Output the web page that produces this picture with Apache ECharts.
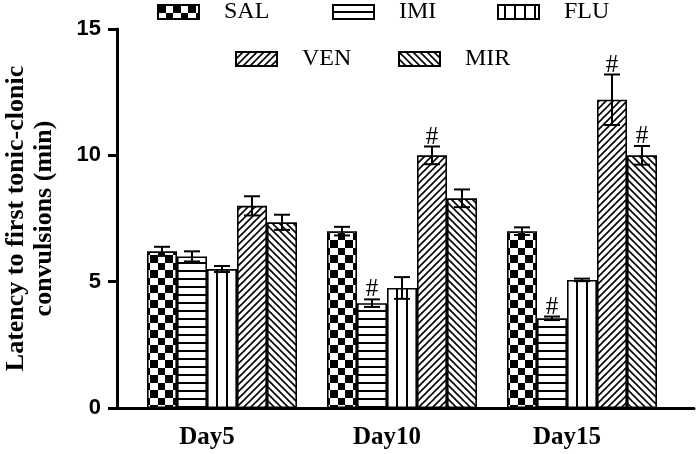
<!DOCTYPE html>
<html><head><meta charset="utf-8">
<script src="https://cdn.jsdelivr.net/npm/echarts@6/dist/echarts.min.js"></script>
<style>html,body{margin:0;padding:0;background:#fff}#c{width:696px;height:454px}</style>
</head><body><div id="c"></div>
<script>
// ---- data ----
const categories = ['Day5', 'Day10', 'Day15'];
const seriesNames = ['SAL', 'IMI', 'FLU', 'VEN', 'MIR'];
const salMean = [6.2, 7.0, 7.0];
const salErr  = [0.18, 0.17, 0.15];
const imiMean = [6.0, 4.15, 3.55];
const imiErr  = [0.2, 0.15, 0.07];
const fluMean = [5.5, 4.75, 5.07];
const fluErr  = [0.12, 0.43, 0.05];
const venMean = [8.0, 10.0, 12.2];
const venErr  = [0.38, 0.35, 1.0];
const mirMean = [7.35, 8.3, 10.0];
const mirErr  = [0.3, 0.35, 0.37];
const salSig = [0, 0, 0];
const imiSig = [0, 1, 1];
const fluSig = [0, 0, 0];
const venSig = [0, 1, 1];
const mirSig = [0, 0, 1];
const yTicks = [0, 5, 10, 15];

const means = [salMean, imiMean, fluMean, venMean, mirMean];
const errs = [salErr, imiErr, fluErr, venErr, mirErr];
const sigs = [salSig, imiSig, fluSig, venSig, mirSig];

// ---- patterns ----
function makePattern(w, h, draw) {
  const c = document.createElement('canvas');
  c.width = w; c.height = h;
  const g = c.getContext('2d');
  g.fillStyle = '#fff'; g.fillRect(0, 0, w, h);
  g.fillStyle = '#000'; g.strokeStyle = '#000';
  draw(g, w, h);
  return { image: c, repeat: 'repeat' };
}
const checker = makePattern(15, 15, g => { g.fillRect(0, 0, 8, 8); g.fillRect(8, 8, 7, 7); });
const hLines = makePattern(8, 8, g => { g.fillRect(0, 6, 8, 2); });
const vLines = makePattern(10, 10, g => { g.fillRect(6, 0, 2, 10); });
function diag(s, dir) {
  return makePattern(s, s, g => {
    g.lineWidth = 1.6; g.beginPath();
    if (dir > 0) {
      g.moveTo(0, s); g.lineTo(s, 0);
      g.moveTo(-1, 1); g.lineTo(1, -1);
      g.moveTo(s - 1, s + 1); g.lineTo(s + 1, s - 1);
    } else {
      g.moveTo(0, 0); g.lineTo(s, s);
      g.moveTo(s - 1, -1); g.lineTo(s + 1, 1);
      g.moveTo(-1, s - 1); g.lineTo(1, s + 1);
    }
    g.stroke();
  });
}
const fills = [checker, hLines, vLines, diag(7, 1), diag(7, -1)];

const BAR_W = 30;
const SLOTS = 6; // one empty slot before the five bars

const barSeries = seriesNames.map((n, i) => ({
  type: 'bar', name: n, data: means[i],
  barWidth: BAR_W, barGap: 0,
  itemStyle: { color: fills[i], borderColor: '#000', borderWidth: 1.6 },
  z: 2, animation: false
}));

const errData = [];
seriesNames.forEach((n, i) => {
  categories.forEach((c, k) => {
    errData.push([k, i, means[i][k], errs[i][k], sigs[i][k]]);
  });
});

const legendPos = [[157, 0], [332, 0], [497, 0], [235, 47], [398, 47]];

const option = {
  animation: false,
  backgroundColor: '#fff',
  grid: [
    { left: 117, top: 29, bottom: 46, width: 540, containLabel: false, outerBoundsMode: 'none' },
    { left: 117, top: 29, bottom: 46, right: 2, containLabel: false, outerBoundsMode: 'none' }
  ],
  legend: seriesNames.map((n, i) => ({
    data: [n], left: legendPos[i][0], top: legendPos[i][1], padding: 0,
    itemWidth: 41, itemHeight: 14, icon: 'rect', selectedMode: false,
    textStyle: { fontFamily: 'Liberation Serif', fontSize: 24, color: '#000', padding: [0, 0, 0, 20] }
  })),
  xAxis: [
    {
      type: 'category', data: categories, gridIndex: 0,
      axisLine: { lineStyle: { color: '#000', width: 3 } },
      axisTick: { alignWithLabel: true, length: 9, lineStyle: { color: '#000', width: 3 } },
      axisLabel: { color: '#000', fontFamily: 'Liberation Serif', fontWeight: 'bold', fontSize: 25, margin: 17 }
    },
    {
      type: 'value', gridIndex: 1, min: 0, max: 1,
      axisLine: { show: true, lineStyle: { color: '#000', width: 3 } },
      axisTick: { show: false }, axisLabel: { show: false }, splitLine: { show: false }
    }
  ],
  yAxis: [
    {
      type: 'value', gridIndex: 0, min: yTicks[0], max: yTicks[yTicks.length - 1], interval: 5,
      name: 'Latency to first tonic-clonic\nconvulsions (min)',
      nameLocation: 'middle', nameGap: 59,
      nameTextStyle: { color: '#000', fontFamily: 'Liberation Serif', fontWeight: 'bold', fontSize: 26, lineHeight: 28 },
      axisLine: { show: true, lineStyle: { color: '#000', width: 3 } },
      axisTick: { show: true, length: 9, lineStyle: { color: '#000', width: 3 } },
      axisLabel: { color: '#000', fontFamily: 'Liberation Sans', fontWeight: 'bold', fontSize: 22, margin: 16 },
      splitLine: { show: false }
    },
    { type: 'value', gridIndex: 1, show: false, min: 0, max: 1 }
  ],
  series: [
    { type: 'bar', name: '_pad', data: [null, null, null], barWidth: BAR_W, barGap: 0, silent: true },
    ...barSeries,
    {
      type: 'custom', name: 'err', data: errData, z: 5, silent: true,
      encode: { x: 0, y: 2 },
      renderItem: function (params, api) {
        const c = api.value(0), slot = api.value(1) + 1;
        const m = api.value(2), e = api.value(3), s = api.value(4);
        const p = api.coord([c, m]);
        const catW = api.size([1, 0])[0];
        const slotW = catW / SLOTS;
        const x = p[0] - catW / 2 + (slot + 0.5) * slotW;
        const yT = api.coord([c, m + e])[1];
        const yB = api.coord([c, m - e])[1];
        const cap = 8;
        const st = { stroke: '#000', lineWidth: 2 };
        const ch = [
          { type: 'line', shape: { x1: x, y1: yT, x2: x, y2: yB }, style: st },
          { type: 'line', shape: { x1: x - cap, y1: yT, x2: x + cap, y2: yT }, style: st },
          { type: 'line', shape: { x1: x - cap, y1: yB, x2: x + cap, y2: yB }, style: st }
        ];
        if (s) ch.push({ type: 'text', style: { text: '#', x: x, y: yT + 3, align: 'center', verticalAlign: 'bottom', font: '25px "Liberation Serif"', fill: '#000' } });
        return { type: 'group', children: ch };
      }
    }
  ]
};
const chart = echarts.init(document.getElementById('c'), null, { renderer: 'canvas' });
chart.setOption(option);
</script>
</body></html>
